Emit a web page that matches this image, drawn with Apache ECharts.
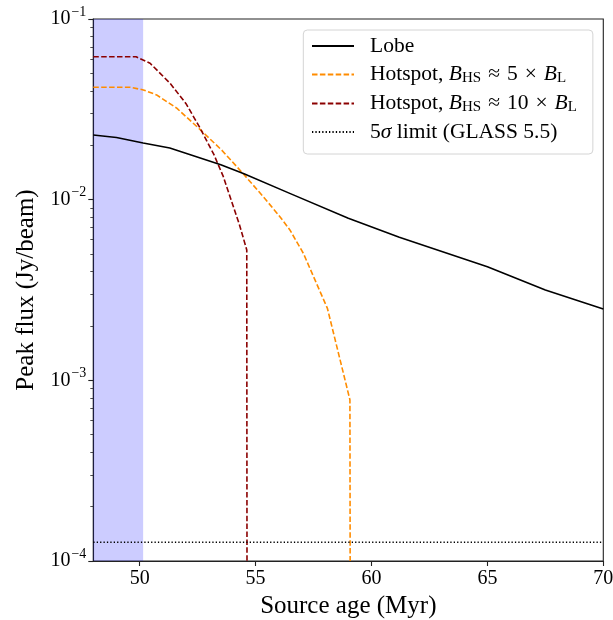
<!DOCTYPE html>
<html>
<head>
<meta charset="utf-8">
<script src="https://cdn.jsdelivr.net/npm/echarts@6/dist/echarts.min.js"></script>
<style>
  html, body { margin: 0; padding: 0; background: #fff; }
  #chart { width: 613px; height: 620px; }
</style>
</head>
<body>
<div id="chart"></div>
<script>
// Source age (Myr) and peak flux (Jy/beam) for each model track
const lobeAge  = [48, 49, 50.15, 51.3, 53.5, 54.5, 56.5, 59.0, 61.2, 65.0, 67.5, 70.0];
const lobeFlux = [0.0228, 0.0221, 0.0206, 0.0193, 0.0156, 0.0139, 0.0108, 0.0079, 0.0062, 0.00425, 0.00316, 0.00248];

const hs5Age  = [48, 49.0, 49.6, 50.16, 50.73, 51.6, 52.6, 53.54, 54.47, 55.3, 56.05, 56.48, 57.06, 58.1, 59.07, 59.08];
const hs5Flux = [0.0419, 0.0419, 0.0419, 0.0405, 0.0380, 0.0321, 0.0245, 0.0188, 0.0139, 0.0105, 0.00805, 0.0068, 0.00505, 0.0025, 0.00078, 0.0001];

const hs10Age  = [48, 49.0, 49.85, 50.45, 51.31, 52.0, 52.6, 53.2, 53.6, 54.3, 54.62, 54.63];
const hs10Flux = [0.0618, 0.0618, 0.0618, 0.0569, 0.0441, 0.0340, 0.0250, 0.0178, 0.0135, 0.0073, 0.00527, 0.0001];

// 5 sigma sensitivity limit of GLASS 5.5
const limitAge  = [48, 70];
const limitFlux = [1.27e-4, 1.27e-4];

// Shaded age range
const bandAge = [48, 50.15];

const xTicks = [50, 55, 60, 65, 70];
const yMajor = [1e-4, 1e-3, 1e-2, 1e-1];
const yMinor = [];
for (let e = -4; e < -1; e++) for (let m = 2; m <= 9; m++) yMinor.push(m * Math.pow(10, e));

const pairs = (xs, ys) => xs.map((x, i) => [x, ys[i]]);

const FONT = 'Liberation Serif';
const chart = echarts.init(document.getElementById('chart'));

const legendRich = {
  n:   { fontFamily: FONT, fontSize: 21.5, color: '#000', lineHeight: 18 },
  it:  { fontFamily: FONT, fontSize: 21.5, fontStyle: 'italic', color: '#000', lineHeight: 18 },
  op:  { fontFamily: FONT, fontSize: 21.5, color: '#000', lineHeight: 18, padding: [0, 7, 0, 7] },
  sub: { fontFamily: FONT, fontSize: 15, color: '#000', lineHeight: 18, padding: [8, 0, 0, 0] }
};
const legendText = {
  'Lobe': '{n|Lobe}',
  'Hotspot 5': '{n|Hotspot, }{it|B}{sub|HS}{op|≈}{n|5}{op|×}{it|B}{sub|L}',
  'Hotspot 10': '{n|Hotspot, }{it|B}{sub|HS}{op|≈}{n|10}{op|×}{it|B}{sub|L}',
  'Limit': '{n|5}{it|σ}{n| limit (GLASS 5.5)}'
};

chart.setOption({
  animation: false,
  backgroundColor: '#fff',
  grid: {
    left: 93.3, right: 9.7, top: 19, bottom: 59,
    outerBoundsMode: 'none', containLabel: false,
    show: true, borderColor: '#222', borderWidth: 1.1, backgroundColor: 'transparent'
  },
  legend: {
    left: 303.3, top: 30,
    orient: 'vertical',
    itemWidth: 42, itemHeight: 18, itemGap: 6,
    padding: [5, 16, 11, 7.7],
    borderColor: '#d4d4d4', borderWidth: 1, borderRadius: 4,
    backgroundColor: 'rgba(255,255,255,0.8)',
    itemStyle: { opacity: 0 },
    data: ['Lobe', 'Hotspot 5', 'Hotspot 10', 'Limit'],
    formatter: name => legendText[name],
    textStyle: { padding: [0, 0, 0, 11], rich: legendRich }
  },
  xAxis: {
    type: 'value', min: 48, max: 70,
    name: 'Source age (Myr)', nameLocation: 'middle', nameGap: 31,
    nameTextStyle: { fontFamily: FONT, fontSize: 25, color: '#000' },
    axisLine: { show: true, lineStyle: { color: '#222', width: 1.1 } },
    axisTick: { show: true, inside: false, length: 5, customValues: xTicks, lineStyle: { color: '#222', width: 1.1 } },
    axisLabel: { customValues: xTicks, margin: 8, fontFamily: FONT, fontSize: 20, color: '#000' },
    splitLine: { show: false }
  },
  yAxis: [{
    type: 'log', logBase: 10, min: 1e-4, max: 1e-1,
    name: 'Peak flux (Jy/beam)', nameLocation: 'middle', nameGap: 54, nameRotate: 90,
    nameTextStyle: { fontFamily: FONT, fontSize: 25, color: '#000' },
    axisLine: { show: true, lineStyle: { color: '#222', width: 1.1 } },
    axisTick: { show: true, length: 5, customValues: yMajor, lineStyle: { color: '#222', width: 1.1 } },
    axisLabel: {
      customValues: yMajor, margin: 7,
      formatter: v => '{b|10}{sup|−' + Math.round(-Math.log10(v)) + '}',
      rich: {
        b: { fontFamily: FONT, fontSize: 20, color: '#000', lineHeight: 20 },
        sup: { fontFamily: FONT, fontSize: 14, color: '#000', lineHeight: 20, padding: [0, 0, 14, 1] }
      }
    },
    splitLine: { show: false }
  }, {
    // minor ticks at 2..9 × 10^k
    type: 'log', logBase: 10, min: 1e-4, max: 1e-1, position: 'left',
    axisLine: { show: false },
    axisTick: { show: true, length: 3, customValues: yMinor, lineStyle: { color: '#222', width: 0.8 } },
    axisLabel: { show: false },
    splitLine: { show: false }
  }],
  series: [{
    name: 'Lobe', type: 'line', data: pairs(lobeAge, lobeFlux),
    symbol: 'none', z: 4,
    lineStyle: { color: '#000', width: 1.6 }, itemStyle: { color: '#000' },
    markArea: {
      silent: true,
      itemStyle: { color: 'rgba(0,0,255,0.2)' },
      data: [[{ xAxis: bandAge[0] }, { xAxis: bandAge[1] }]]
    }
  }, {
    name: 'Hotspot 5', type: 'line', data: pairs(hs5Age, hs5Flux),
    symbol: 'none', z: 3,
    lineStyle: { color: '#ff8c00', width: 1.6, type: [5.5, 2.4] }, itemStyle: { color: '#ff8c00' }
  }, {
    name: 'Hotspot 10', type: 'line', data: pairs(hs10Age, hs10Flux),
    symbol: 'none', z: 3,
    lineStyle: { color: '#8b0000', width: 1.6, type: [5.5, 2.4] }, itemStyle: { color: '#8b0000' }
  }, {
    name: 'Limit', type: 'line', data: pairs(limitAge, limitFlux),
    symbol: 'none', z: 3,
    lineStyle: { color: '#000', width: 1.3, type: [1.3, 2.1] }, itemStyle: { color: '#000' }
  }]
});
</script>
</body>
</html>
